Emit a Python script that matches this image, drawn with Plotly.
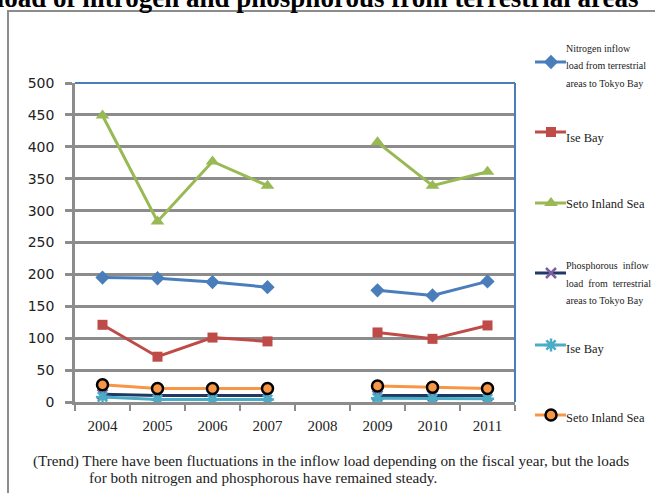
import plotly.graph_objects as go

years = ["2004", "2005", "2006", "2007", "2008", "2009", "2010", "2011"]
n_tokyo = [195, 194, 188, 180, None, 175, 167, 189]
n_ise = [121, 71, 101, 95, None, 109, 99, 120]
n_seto = [449, 283, 377, 339, None, 407, 339, 361]
p_tokyo = [12, 10, 10, 10, None, 10, 10, 10]
p_ise = [8, 4, 4, 4, None, 6, 5, 5]
p_seto = [27, 21, 21, 21, None, 25, 23, 21]
y_ticks = [0, 50, 100, 150, 200, 250, 300, 350, 400, 450, 500]

W, H = 655, 493
L, R, T, B = 75, 515, 83, 402

SERIF = "Liberation Serif"

series = [
    ("Nitrogen inflow<br>load from terrestrial<br>areas to Tokyo Bay", n_tokyo, "#4a7ebb",
     dict(symbol="diamond", size=11, color="#4a7ebb")),
    ("Ise Bay", n_ise, "#be4b48", dict(symbol="square", size=10, color="#be4b48")),
    ("Seto Inland Sea", n_seto, "#98b954", dict(symbol="triangle-up", size=12, color="#98b954")),
    ("Phosphorous inflow<br>load from terrestrial<br>areas to Tokyo Bay", p_tokyo, "#1f3864",
     dict(symbol="x-thin-open", size=10, color="#7d60a0", line=dict(width=2.5, color="#7d60a0"))),
    ("Ise Bay", p_ise, "#4bacc6",
     dict(symbol="asterisk-open", size=11, color="#4bacc6", line=dict(width=2.5, color="#4bacc6"))),
    ("Seto Inland Sea", p_seto, "#f79646",
     dict(symbol="circle", size=11, color="#f79646", line=dict(width=2.5, color="black"))),
]

fig = go.Figure()
for name, vals, col, mk in series:
    fig.add_trace(go.Scatter(x=years, y=vals, mode="lines+markers", name=name,
                             line=dict(color=col, width=3), marker=mk,
                             showlegend=False, xaxis="x", yaxis="y"))

# custom legend on independent pixel axes
leg_y = [62, 132, 203, 273, 345, 415]
for (name, vals, col, mk), ly in zip(series, leg_y):
    fig.add_trace(go.Scatter(x=[535, 566], y=[ly, ly], mode="lines", line=dict(color=col, width=3),
                             showlegend=False, hoverinfo="skip", xaxis="x2", yaxis="y2"))
    fig.add_trace(go.Scatter(x=[551], y=[ly], mode="markers", marker=mk,
                             showlegend=False, hoverinfo="skip", xaxis="x2", yaxis="y2"))

annotations = []
small_entries = [
    (["Nitrogen inflow", "load from terrestrial", "areas to Tokyo Bay"], [48, 65.5, 83]),
    (["Phosphorous  inflow", "load  from  terrestrial", "areas to Tokyo Bay"], [265, 283, 300]),
]
for lines, ys in small_entries:
    for t, yy in zip(lines, ys):
        annotations.append(dict(x=564, y=yy, xref="x2", yref="y2", text=t, showarrow=False,
                                xanchor="left", yanchor="middle",
                                font=dict(family=SERIF, size=10, color="#222")))
for t, yy in [("Ise Bay", 138), ("Seto Inland Sea", 204), ("Ise Bay", 349), ("Seto Inland Sea", 418)]:
    annotations.append(dict(x=564, y=yy, xref="x2", yref="y2", text=t, showarrow=False,
                            xanchor="left", yanchor="middle",
                            font=dict(family=SERIF, size=12.5, color="#222")))

# title (clipped at top)
annotations.append(dict(x=641, y=15, xref="x2", yref="y2",
                        text="<b>Inflow load of nitrogen and phosphorous from terrestrial areas</b>",
                        showarrow=False, xanchor="right", yanchor="bottom",
                        font=dict(family=SERIF, size=27, color="black")))
# footnote
annotations.append(dict(x=31, y=461, xref="x2", yref="y2",
                        text="(Trend) There have been fluctuations in the inflow load depending on the fiscal year, but the loads",
                        showarrow=False, xanchor="left", yanchor="middle",
                        font=dict(family=SERIF, size=15.2, color="#222")))
annotations.append(dict(x=87, y=477, xref="x2", yref="y2",
                        text="for both nitrogen and phosphorous have remained steady.",
                        showarrow=False, xanchor="left", yanchor="middle",
                        font=dict(family=SERIF, size=15.2, color="#222")))

shapes = [
    dict(type="rect", xref="x2", yref="y2", x0=8, y0=11, x1=W + 10, y1=H + 10,
         line=dict(color="#8c8c8c", width=2), layer="below"),
    dict(type="line", xref="x2", yref="y2", x0=L, y0=T, x1=R, y1=T,
         line=dict(color="#4a7ebb", width=2)),
    dict(type="line", xref="x2", yref="y2", x0=R, y0=T, x1=R, y1=B,
         line=dict(color="#4a7ebb", width=2)),
]

fig.update_layout(
    width=W, height=H,
    margin=dict(l=0, r=0, t=0, b=0, pad=0, autoexpand=False),
    paper_bgcolor="white", plot_bgcolor="rgba(0,0,0,0)",
    showlegend=False,
    xaxis=dict(domain=[L / W, R / W], type="category", categoryorder="array", categoryarray=years,
               showgrid=False, showline=True, linecolor="#8c8c8c", linewidth=2.5,
               ticks="outside", tickson="boundaries", ticklen=6, tickcolor="#8c8c8c", tickwidth=2,
               tickfont=dict(family=SERIF, size=15, color="#222"), ticklabelstandoff=8,
               range=[-0.5, 7.5], fixedrange=True, anchor="y", automargin=False),
    yaxis=dict(domain=[(H - B) / H, (H - T) / H], range=[0, 500], tickvals=y_ticks,
               showgrid=True, gridcolor="#8c8c8c", gridwidth=2.5,
               showline=True, linecolor="#8c8c8c", linewidth=2.5, zeroline=False,
               ticks="outside", ticklen=7, tickcolor="#8c8c8c", tickwidth=2.5,
               tickfont=dict(family="DejaVu Sans", size=14, color="#222"), ticklabelstandoff=8,
               fixedrange=True, anchor="x", automargin=False),
    xaxis2=dict(domain=[0, 1], range=[0, W], visible=False, fixedrange=True, anchor="y2",
                automargin=False),
    yaxis2=dict(domain=[0, 1], range=[H, 0], visible=False, fixedrange=True, anchor="x2",
                automargin=False),
    annotations=annotations,
    shapes=shapes,
)

fig.write_html("out.html", config={"displayModeBar": False},
               post_script="document.body.style.margin='0';document.body.style.padding='0';")
